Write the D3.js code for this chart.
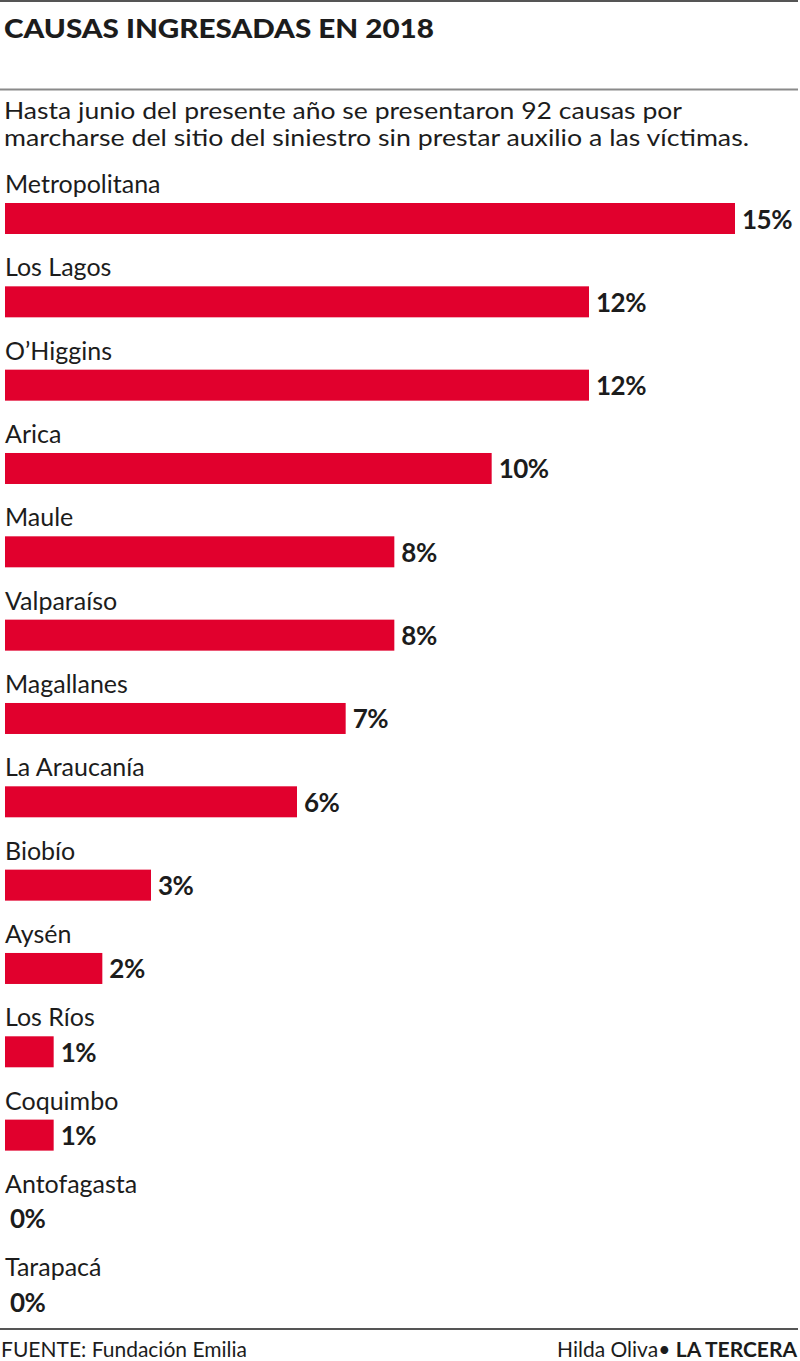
<!DOCTYPE html>
<html>
<head>
<meta charset="utf-8">
<script src="https://cdn.jsdelivr.net/npm/d3@7"></script>
<style>
html,body{margin:0;padding:0;background:#fff;}
svg{display:block;}
text{font-family:Lato,"Open Sans",sans-serif;fill:#1c1c1c;}
</style>
</head>
<body>
<svg id="chart" width="800" height="1361"></svg>
<script>
const regions = ["Metropolitana","Los Lagos","O’Higgins","Arica","Maule","Valparaíso","Magallanes","La Araucanía","Biobío","Aysén","Los Ríos","Coquimbo","Antofagasta","Tarapacá"];
const values = [15,12,12,10,8,8,7,6,3,2,1,1,0,0];
const title = "CAUSAS INGRESADAS EN 2018";
const subtitleLines = ["Hasta junio del presente año se presentaron 92 causas por","marcharse del sitio del siniestro sin prestar auxilio a las víctimas."];
const source = "FUENTE: Fundación Emilia";
const creditAuthor = "Hilda Oliva• ";
const creditPaper = "LA TERCERA";

const data = regions.map((r,i)=>({region:r,value:values[i]}));
const svg = d3.select("#chart");

// rules
svg.append("line").attr("x1",0).attr("x2",798).attr("y1",1).attr("y2",1).attr("stroke","#555").attr("stroke-width",2);
svg.append("line").attr("x1",0).attr("x2",798).attr("y1",89.5).attr("y2",89.5).attr("stroke","#8a8a8a").attr("stroke-width",2);
svg.append("line").attr("x1",0).attr("x2",798).attr("y1",1329).attr("y2",1329).attr("stroke","#555").attr("stroke-width",2);

// title
svg.append("text").attr("x",4).attr("y",37.5).text(title)
  .style("font-weight",900).style("font-size","27px").attr("textLength",430).attr("lengthAdjust","spacingAndGlyphs");

// subtitle
const subW = [678, 745];
subtitleLines.forEach((t,i)=>{
  svg.append("text").attr("x",4).attr("y",119+i*26.5).text(t)
    .style("font-size","23px").attr("textLength",subW[i]).attr("lengthAdjust","spacingAndGlyphs");
});

// scales
const step = 83.33;
const y = d3.scaleBand().domain(regions).range([203, 203+step*regions.length]).paddingInner(0).paddingOuter(0);
const x = d3.scaleLinear().domain([0,15]).range([5,735]);
const barH = 31;

const rows = svg.append("g").selectAll("g.row").data(data).join("g").attr("class","row");

rows.append("text").attr("x",5).attr("y",d=>y(d.region)-10).text(d=>d.region)
  .style("font-size","25px");

rows.append("rect").attr("x",x(0)).attr("y",d=>y(d.region))
  .attr("width",d=>x(d.value)-x(0)).attr("height",barH).attr("fill","#e1002d");

rows.append("text").attr("x",d=>x(d.value)+(d.value>0?7:5)).attr("y",d=>y(d.region)+barH/2+10)
  .text(d=>d.value+"%").style("font-size","26px").style("font-weight",700).attr("letter-spacing","-0.5");

// footer
svg.append("text").attr("x",1).attr("y",1357).text(source).style("font-size","21px");
const cred = svg.append("text").attr("x",797).attr("y",1357).attr("text-anchor","end").style("font-size","21px");
cred.append("tspan").text(creditAuthor);
cred.append("tspan").text(creditPaper).style("font-weight",700);
</script>
</body>
</html>
